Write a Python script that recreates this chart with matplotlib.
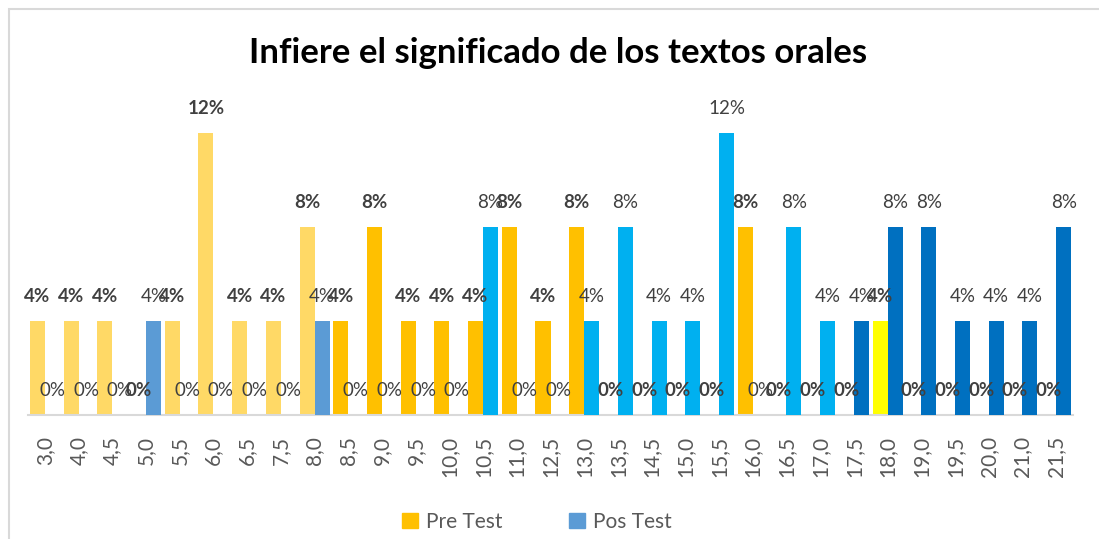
import matplotlib.pyplot as plt
import numpy as np

# categories (puntajes) and percentages per series
categorias = ['3,0', '4,0', '4,5', '5,0', '5,5', '6,0', '6,5', '7,5', '8,0', '8,5',
              '9,0', '9,5', '10,0', '10,5', '11,0', '12,5', '13,0', '13,5', '14,5', '15,0',
              '15,5', '16,0', '16,5', '17,0', '17,5', '18,0', '19,0', '19,5', '20,0', '21,0',
              '21,5']
pre_test = [4, 4, 4, 0, 4, 12, 4, 4, 8, 4,
            8, 4, 4, 4, 8, 4, 8, 0, 0, 0,
            0, 8, 0, 0, 0, 4, 0, 0, 0, 0,
            0]
pos_test = [0, 0, 0, 4, 0, 0, 0, 0, 4, 0,
            0, 0, 0, 8, 0, 0, 4, 8, 4, 4,
            12, 0, 8, 4, 4, 8, 8, 4, 4, 4,
            8]

# per-bar colours (Excel "vary colours" look)
pre_colors = ['#FFD966'] * 9 + ['#FFC000'] * 16 + ['#FFFF00'] * 6
pos_colors = ['#5B9BD5'] * 13 + ['#00B0F0'] * 11 + ['#0070C0'] * 7

plt.rcParams['font.family'] = ['Lato', 'DejaVu Sans']

fig = plt.figure(figsize=(10.99, 5.39), dpi=100)
ax = fig.add_axes([28 / 1099, 1 - 415 / 539, 1045 / 1099, 329 / 539])

x = np.arange(len(categorias))
w = 0.445
b1 = ax.bar(x - w / 2, pre_test, width=w, color=pre_colors, zorder=2)
b2 = ax.bar(x + w / 2, pos_test, width=w, color=pos_colors, zorder=3)

for rect, v in zip(b1, pre_test):
    ax.annotate('{0}%'.format(v), (rect.get_x() + rect.get_width() / 2, v),
                xytext=(0, 17.5), textcoords='offset points', ha='center', va='center',
                fontsize=13.5, fontweight='bold', color='#404040', zorder=5)
for rect, v in zip(b2, pos_test):
    ax.annotate('{0}%'.format(v), (rect.get_x() + rect.get_width() / 2, v),
                xytext=(0, 17.5), textcoords='offset points', ha='center', va='center',
                fontsize=13.5, color='#404040', zorder=5)

ax.set_xlim(-0.5, len(categorias) - 0.5)
ax.set_ylim(0, 14)
ax.set_yticks([])
ax.set_xticks(x)
ax.set_xticklabels(categorias, rotation=90, fontsize=15, color='#595959')
ax.tick_params(axis='x', length=0, pad=15)
for s in ['top', 'right', 'left']:
    ax.spines[s].set_visible(False)
ax.spines['bottom'].set_color('#D9D9D9')
ax.spines['bottom'].set_linewidth(1.5)

fig.text(558 / 1099, 1 - 53 / 539, 'Infiere el significado de los textos orales',
         ha='center', va='center', fontsize=25, fontweight='bold', color='black')

# legend
h1 = plt.Rectangle((0, 0), 1, 1, color='#FFC000')
h2 = plt.Rectangle((0, 0), 1, 1, color='#5B9BD5')
fig.legend([h1, h2], ['Pre Test', 'Pos Test'], loc='center', ncol=2,
           bbox_to_anchor=(537 / 1099, 1 - 522 / 539), frameon=False,
           fontsize=15, labelcolor='#595959', handlelength=0.75, handleheight=0.75,
           handletextpad=0.4, columnspacing=3.2)

# chart frame
frame = plt.Rectangle((9 / 1099, -0.1), 1.2, 1 - 9 / 539 + 0.1, transform=fig.transFigure,
                      fill=False, edgecolor='#D9D9D9', linewidth=1.5)
fig.patches.append(frame)

fig.savefig('out.png', dpi=100)
